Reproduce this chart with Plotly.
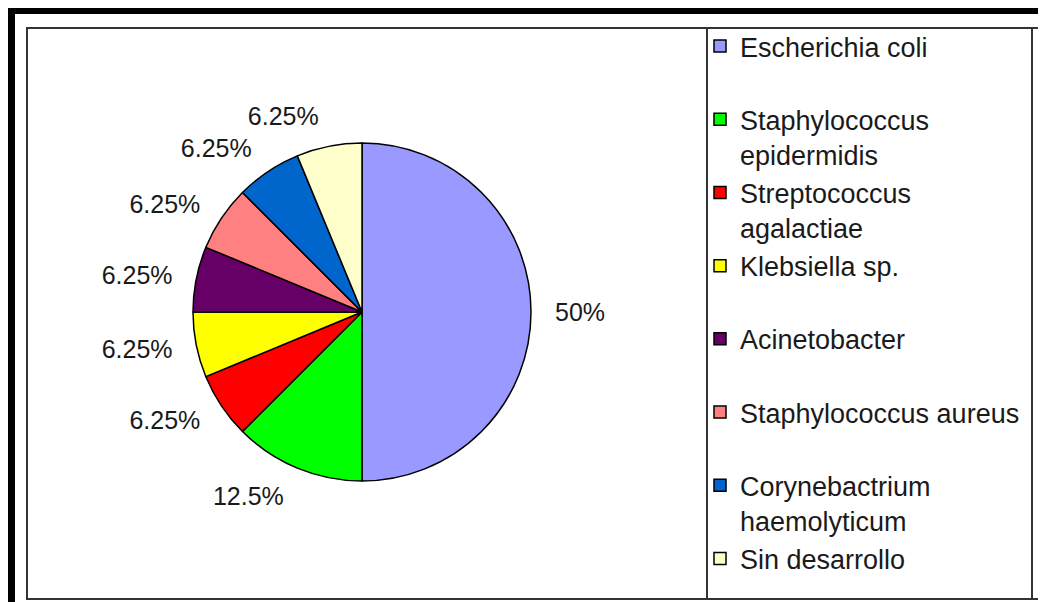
import plotly.graph_objects as go

# the page body adds an 8px margin, so the figure is drawn 8px in from the window edge
OFF = 8
W, H = 1046 - OFF, 602 - OFF

organisms = [
    "Escherichia coli",
    "Staphylococcus<br>epidermidis",
    "Streptococcus<br>agalactiae",
    "Klebsiella sp.",
    "Acinetobacter",
    "Staphylococcus aureus",
    "Corynebactrium<br>haemolyticum",
    "Sin desarrollo",
]
percent_values = [50, 12.5, 6.25, 6.25, 6.25, 6.25, 6.25, 6.25]
percent_text = ["50%", "12.5%", "6.25%", "6.25%", "6.25%", "6.25%", "6.25%", "6.25%"]
slice_colors = ["#9999FF", "#00FF00", "#FF0000", "#FFFF00",
                "#660066", "#FF8080", "#0066CC", "#FFFFCC"]

# pad single-line legend labels (except the last) to two lines so rows are evenly spaced
legend_labels = [l if ("<br>" in l or i == len(organisms) - 1) else l + "<br> "
                 for i, l in enumerate(organisms)]


def px(x):  # screen x -> paper fraction
    return (x - OFF) / W


def py(y):  # screen y -> paper fraction
    return 1 - (y - OFF) / H


cx, cy, r = 362, 312, 169
r_lab = 186

# visible pie
pie = go.Pie(
    labels=legend_labels,
    values=percent_values,
    textinfo="none",
    sort=False,
    direction="clockwise",
    rotation=0,
    marker=dict(colors=slice_colors, line=dict(color="#000000", width=1.5)),
    domain=dict(x=[px(cx - r), px(cx + r)], y=[py(cy + r), py(cy - r)]),
    showlegend=True,
    hoverinfo="label+percent",
)

# transparent, slightly larger copy that only carries the outside percentage labels
label_ring = go.Pie(
    labels=legend_labels,
    values=percent_values,
    text=percent_text,
    textinfo="text",
    textposition="outside",
    sort=False,
    direction="clockwise",
    rotation=0,
    marker=dict(colors=["rgba(0,0,0,0)"] * len(percent_values),
                line=dict(width=0)),
    textfont=dict(family="Liberation Sans", size=25, color="#1a1a1a"),
    domain=dict(x=[px(cx - r_lab), px(cx + r_lab)], y=[py(cy + r_lab), py(cy - r_lab)]),
    showlegend=False,
    hoverinfo="skip",
)

fig = go.Figure([label_ring, pie])

shapes = [
    # outer thick frame
    dict(type="rect", xref="paper", yref="paper",
         x0=px(11.5), x1=px(1060), y0=py(10.5), y1=py(620),
         line=dict(color="#000000", width=7)),
    # inner frame
    dict(type="rect", xref="paper", yref="paper",
         x0=px(27), x1=px(1039), y0=py(28), y1=py(599),
         line=dict(color="#333333", width=2)),
    # legend box
    dict(type="rect", xref="paper", yref="paper",
         x0=px(707), x1=px(1032), y0=py(28), y1=py(599),
         line=dict(color="#333333", width=2)),
]

fig.update_layout(
    width=W, height=H,
    margin=dict(l=0, r=0, t=0, b=0),
    paper_bgcolor="#ffffff",
    plot_bgcolor="#ffffff",
    shapes=shapes,
    legend=dict(
        x=px(700), y=py(22), xanchor="left", yanchor="top",
        valign="top",
        font=dict(family="Liberation Sans", size=27, color="#1a1a1a"),
        bgcolor="rgba(0,0,0,0)",
        itemwidth=30,
        tracegroupgap=0,
    ),
)

fig.write_html("out.html")
